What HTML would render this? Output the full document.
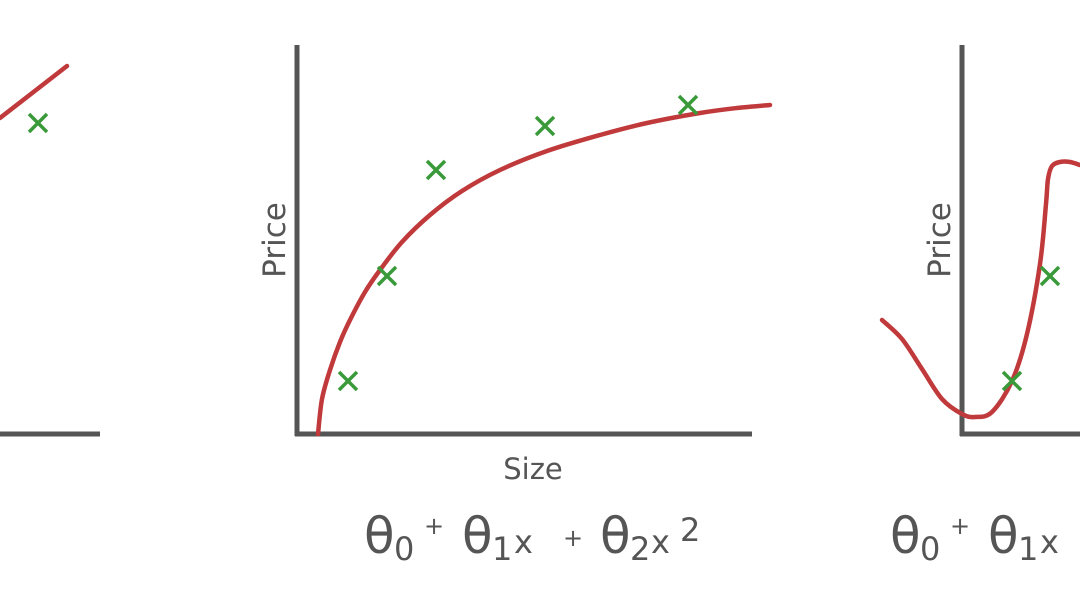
<!DOCTYPE html>
<html><head><meta charset="utf-8"><style>
html,body{margin:0;padding:0;background:#fff;width:1080px;height:603px;overflow:hidden}
svg{display:block}
text{font-family:"DejaVu Sans","Liberation Sans",sans-serif;fill:#555}
</style></head><body>
<svg id="c" width="1080" height="603">
<g id="left"></g>
<g id="mid"></g>
<g id="right"></g>
<text x="533" y="479" font-size="29" text-anchor="middle">Size</text>
<text transform="translate(285,240) rotate(-90)" font-size="31" text-anchor="middle">Price</text>
<text transform="translate(950,240) rotate(-90)" font-size="31" text-anchor="middle">Price</text>
<g fill="#555">
<text x="364" y="553" font-size="50" transform="scale(1,1)" textLength="34">θ</text>
<text x="394" y="560" font-size="32">0</text>
<text x="424" y="534" font-size="24">+</text>
<text x="462" y="553" font-size="50">θ</text>
<text x="492" y="560" font-size="32">1</text>
<text x="514" y="553" font-size="32">x</text>
<text x="563" y="546" font-size="24">+</text>
<text x="600" y="553" font-size="50">θ</text>
<text x="630" y="560" font-size="32">2</text>
<text x="651" y="553" font-size="32">x</text>
<text x="680" y="541" font-size="32">2</text>
</g>
<g>
<text x="890" y="553" font-size="50">θ</text>
<text x="920" y="560" font-size="32">0</text>
<text x="950" y="534" font-size="24">+</text>
<text x="988" y="553" font-size="50">θ</text>
<text x="1018" y="560" font-size="32">1</text>
<text x="1040" y="553" font-size="32">x</text>
</g>
</svg>
<script>
// data in axis units (x right of y-axis, y above x-axis)
const midPointsX=[51,90,139,248,391];
const midPointsY=[53,158,264,308,329];
const midCurveX=[21,25,33,43,53,68,83,105,133,165,203,250,303,350,403,440,473];
const midCurveY=[0,35,64,92,114,142,164,192,219,243,264,283,299,311,321,326,329];
const leftPointsX=[38];const leftPointsY=[311];
const leftLineX=[0,67];const leftLineY=[316,368];
const rightPointsX=[50,88];const rightPointsY=[53,158];
const rightCurveX=[-80,-60,-40,-20,0,13,30,50,65,78,84,86,90,98,108,118];
const rightCurveY=[114,95,65,35,20,17,22,53,100,170,230,255,268,272,272,269];
const NS='http://www.w3.org/2000/svg';
function mk(t,a,p){const e=document.createElementNS(NS,t);for(const k in a)e.setAttribute(k,a[k]);p.appendChild(e);return e;}
function drawAxes(g,ox,oy,top,right,hasY){
  if(hasY){const a=mk('line',{x1:ox,y1:top,x2:ox,y2:oy+2,stroke:'#555','stroke-width':5},g);
  }
  const b=mk('line',{x1:hasY?ox-2:0,y1:oy,x2:right,y2:oy,stroke:'#555','stroke-width':5},g);
  
}
function drawCurve(g,xs,ys,sx,sy,name){
  const P=xs.map((x,i)=>[sx(x),sy(ys[i])]);
  let d='M'+P[0][0]+' '+P[0][1];
  for(let i=0;i<P.length-1;i++){const p0=P[Math.max(0,i-1)],p1=P[i],p2=P[i+1],p3=P[Math.min(P.length-1,i+2)];
    const c1=[p1[0]+(p2[0]-p0[0])/6,p1[1]+(p2[1]-p0[1])/6],c2=[p2[0]-(p3[0]-p1[0])/6,p2[1]-(p3[1]-p1[1])/6];
    d+=`C${c1[0]} ${c1[1]} ${c2[0]} ${c2[1]} ${p2[0]} ${p2[1]}`;}
  const p=mk('path',{d,fill:'none',stroke:'#c0393b','stroke-width':4.5,'stroke-linejoin':'round','stroke-linecap':'round'},g);
  
}
function drawPts(g,xs,ys,sx,sy){
  xs.forEach((x,i)=>{const cx=sx(x),cy=sy(ys[i]),r=9;
    const e=mk('path',{d:`M${cx-r} ${cy-r}L${cx+r} ${cy+r}M${cx+r} ${cy-r}L${cx-r} ${cy+r}`,stroke:'#3a9a3a','stroke-width':3.5,fill:'none'},g);
    });
}
{const g=document.getElementById('left');const ox=0,oy=434;const sx=v=>ox+v,sy=v=>oy-v;
 drawAxes(g,ox,oy,0,100,false);drawCurve(g,leftLineX,leftLineY,sx,sy,'fit-line-linear');drawPts(g,leftPointsX,leftPointsY,sx,sy);}
{const g=document.getElementById('mid');const ox=297,oy=434;const sx=v=>ox+v,sy=v=>oy-v;
 drawAxes(g,ox,oy,45,752,true);drawCurve(g,midCurveX,midCurveY,sx,sy,'fit-curve-quadratic');drawPts(g,midPointsX,midPointsY,sx,sy);}
{const g=document.getElementById('right');const ox=962,oy=434;const sx=v=>ox+v,sy=v=>oy-v;
 drawAxes(g,ox,oy,45,1080,true);drawCurve(g,rightCurveX,rightCurveY,sx,sy,'fit-curve-overfit');drawPts(g,rightPointsX,rightPointsY,sx,sy);}
</script>
</body></html>
